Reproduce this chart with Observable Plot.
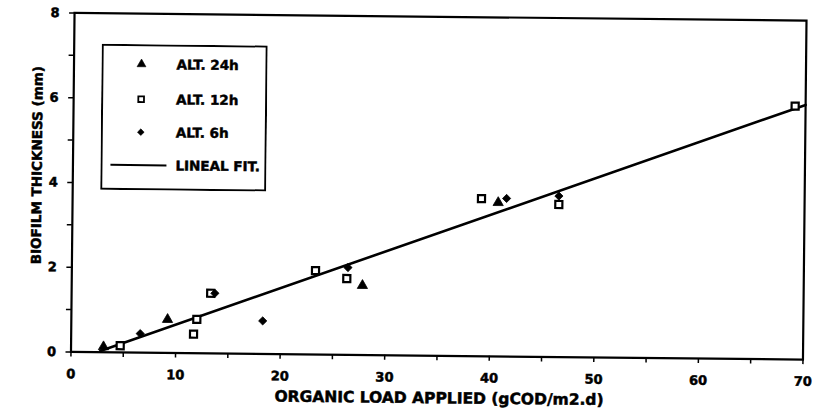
<!DOCTYPE html>
<html>
<head>
<meta charset="utf-8">
<script src="https://cdn.jsdelivr.net/npm/d3@7"></script>
<script src="https://cdn.jsdelivr.net/npm/@observablehq/plot@0.6"></script>
<style>
  html, body { margin: 0; padding: 0; background: #fff; }
  #wrap { position: relative; width: 820px; height: 420px; transform: rotate(0.6deg); transform-origin: 410px 210px;
          font-family: "DejaVu Sans", sans-serif; font-weight: bold; color: #000; }
  #chart svg { display: block; }
  #chart svg text, #legend text { stroke: #000; stroke-width: 0.5px; }
  .ttl { position: absolute; white-space: nowrap; -webkit-text-stroke: 0.5px #000; }
  #xlabel { left: 441px; top: 393px; font-size: 15.5px; line-height: 0.75; transform: translateX(-50%); }
  #ylabel { left: 36.5px; top: 169px; font-size: 13.5px; line-height: 1; transform: translate(-50%, -50%) rotate(-90deg); }
  #legend { position: absolute; left: 100px; top: 47px; }
</style>
</head>
<body>
<div id="wrap">
  <div id="chart"></div>
  <div id="ylabel" class="ttl"></div>
  <div id="xlabel" class="ttl"></div>
  <svg id="legend" width="166" height="146"></svg>
</div>
<script>
// ---- data ----
const alt24X = [3.1, 9.2, 27.8, 40.7];
const alt24Y = [0.13, 0.79, 1.64, 3.63];
const alt12X = [4.7, 11.7, 12.0, 13.3, 23.3, 26.3, 39.1, 46.5, 69.0];
const alt12Y = [0.16, 0.45, 0.80, 1.42, 1.98, 1.80, 3.72, 3.60, 5.98];
const alt6X = [6.6, 13.7, 18.3, 26.4, 41.5, 46.5];
const alt6Y = [0.45, 1.42, 0.78, 2.06, 3.73, 3.80];
const fitX = [2.8, 70];
const fitY = [0.03, 6.01];

const seriesNames = ["ALT. 24h", "ALT. 12h", "ALT. 6h", "LINEAL FIT."];
const xTicks = [0, 5, 10, 15, 20, 25, 30, 35, 40, 45, 50, 55, 60, 65, 70];
const xTickLabels = [0, 10, 20, 30, 40, 50, 60, 70];
const yTicks = [0, 1, 2, 3, 4, 5, 6, 7, 8];
const yTickLabels = [0, 2, 4, 6, 8];
const xTitle = "ORGANIC LOAD APPLIED (gCOD/m2.d)";
const yTitle = "BIOFILM THICKNESS (mm)";

const zip = (xs, ys) => xs.map((x, i) => ({x, y: ys[i]}));
const d24 = zip(alt24X, alt24Y);
const d12 = zip(alt12X, alt12Y);
const d6 = zip(alt6X, alt6Y);
const dFit = zip(fitX, fitY);

const chart = Plot.plot({
  width: 820,
  height: 420,
  marginLeft: 72,
  marginRight: 16,
  marginTop: 16,
  marginBottom: 65,
  style: {fontFamily: "'DejaVu Sans', sans-serif", fontSize: "13px", fontWeight: "bold", color: "#000", background: "transparent"},
  x: {domain: [0, 70], label: null},
  y: {domain: [0, 8], label: null},
  marks: [
    Plot.axisX({ticks: xTicks, tickSize: 5, strokeWidth: 1.5, label: null, tickFormat: () => ""}),
    Plot.axisY({ticks: yTicks, tickSize: 5, strokeWidth: 1.5, label: null, tickFormat: () => ""}),
    Plot.text(xTickLabels, {x: d => d, text: d => String(d), frameAnchor: "bottom", lineAnchor: "top", dy: 17}),
    Plot.text(yTickLabels, {y: d => d, text: d => String(d), frameAnchor: "left", textAnchor: "end", dx: -15}),
    Plot.line(dFit, {x: "x", y: "y", stroke: "#000", strokeWidth: 2.6}),
    Plot.dot(d12, {x: "x", y: "y", symbol: "square", r: 4, fill: "#fff", stroke: "#000", strokeWidth: 2.2}),
    Plot.dot(d6, {x: "x", y: "y", symbol: "diamond2", r: 3.7, fill: "#000", stroke: "#000", strokeWidth: 0.8}),
    Plot.dot(d24, {x: "x", y: "y", symbol: "triangle", r: 3.8, fill: "#000", stroke: "#000", strokeWidth: 0.8}),
    Plot.frame({stroke: "#000", strokeWidth: 2.2})
  ]
});
document.getElementById("chart").appendChild(chart);
document.getElementById("xlabel").textContent = xTitle;
document.getElementById("ylabel").textContent = yTitle;

// legend
const lg = d3.select("#legend");
lg.append("rect").attr("x", 1).attr("y", 1).attr("width", 164).attr("height", 144)
  .attr("fill", "#fff").attr("stroke", "#000").attr("stroke-width", 2);
const rows = [
  {name: seriesNames[0], y: 20, sym: d3.symbolTriangle, r: 3.3, fill: "#000", sw: 0.6},
  {name: seriesNames[1], y: 55, sym: d3.symbolSquare, r: 3.2, fill: "#fff", sw: 1.8},
  {name: seriesNames[2], y: 88, sym: d3.symbolDiamond2, r: 3.0, fill: "#000", sw: 0.6},
];
const lgFont = "13.5px";
rows.forEach(rw => {
  lg.append("path").attr("d", d3.symbol(rw.sym, Math.PI * rw.r * rw.r)())
    .attr("transform", `translate(40,${rw.y})`).attr("fill", rw.fill).attr("stroke", "#000").attr("stroke-width", rw.sw);
  lg.append("text").attr("x", 75).attr("y", rw.y).attr("dy", "0.36em").text(rw.name)
    .attr("font-family", "'DejaVu Sans', sans-serif").attr("font-weight", "bold").attr("font-size", lgFont);
});
lg.append("line").attr("x1", 10).attr("x2", 66).attr("y1", 121).attr("y2", 121).attr("stroke", "#000").attr("stroke-width", 2);
lg.append("text").attr("x", 75).attr("y", 121).attr("dy", "0.36em").text(seriesNames[3])
  .attr("font-family", "'DejaVu Sans', sans-serif").attr("font-weight", "bold").attr("font-size", lgFont);
</script>
</body>
</html>
